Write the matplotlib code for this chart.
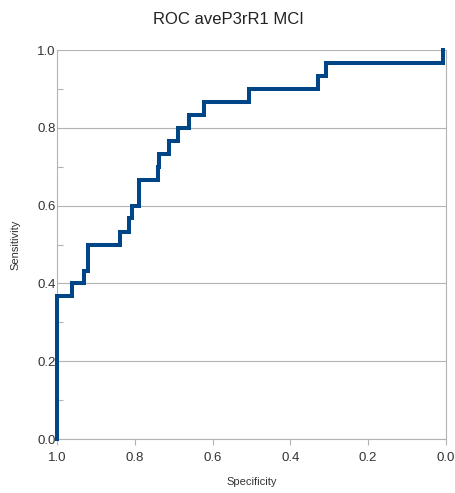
import matplotlib
matplotlib.use("Agg")
import matplotlib.pyplot as plt
from matplotlib.ticker import MultipleLocator

plt.rcParams['font.family'] = ['Liberation Sans', 'DejaVu Sans']

title = "ROC aveP3rR1 MCI"
x_label = "Specificity"
y_label = "Sensitivity"

specificity = [1.0, 1.0, 0.962, 0.930, 0.921, 0.838, 0.814, 0.807, 0.788, 0.741,
               0.737, 0.712, 0.688, 0.660, 0.622, 0.507, 0.329, 0.309, 0.008]
sensitivity = [0.0, 0.367, 0.400, 0.433, 0.500, 0.533, 0.567, 0.600, 0.667, 0.700,
               0.733, 0.767, 0.800, 0.833, 0.867, 0.900, 0.933, 0.967, 1.0]

x_ticks = [1.0, 0.8, 0.6, 0.4, 0.2, 0.0]
y_ticks = [0.0, 0.2, 0.4, 0.6, 0.8, 1.0]

fig = plt.figure(figsize=(4.56, 4.93), dpi=100)
ax = fig.add_axes([0.125, 0.1095, 0.853, 0.789])

grid_color = "#b3b3b3"
for y in y_ticks:
    ax.axhline(y, color=grid_color, lw=0.8, zorder=1)

ax.plot(specificity, sensitivity, drawstyle="steps-post", color="#004586",
        lw=2.9, zorder=3, solid_joinstyle="miter", clip_on=False)

ax.set_xlim(1.0, 0.0)
ax.set_ylim(0.0, 1.0)
ax.set_xticks(x_ticks)
ax.set_yticks(y_ticks)
ax.set_xticklabels([f"{v:.1f}" for v in x_ticks])
ax.set_yticklabels([f"{v:.1f}" for v in y_ticks])
ax.yaxis.set_minor_locator(MultipleLocator(0.1))

for s in ["left", "bottom", "right"]:
    ax.spines[s].set_color(grid_color)
    ax.spines[s].set_linewidth(0.8)
ax.spines["top"].set_visible(False)

ax.tick_params(axis="x", which="major", direction="out", length=4, width=0.8,
               color=grid_color, labelsize=9.5, labelcolor="#333333", pad=5)
ax.tick_params(axis="y", which="major", direction="out", length=0, width=0.8,
               color=grid_color, labelsize=9.5, labelcolor="#333333", pad=1)
ax.tick_params(axis="y", which="minor", direction="in", length=4, width=0.8,
               color=grid_color)

ax.set_xlabel(x_label, fontsize=8, color="#333333", labelpad=10)
ax.set_ylabel(y_label, fontsize=8, color="#333333", labelpad=12)
fig.suptitle(title, fontsize=12, color="#222222", y=0.975)

fig.savefig("out.png", dpi=100)
